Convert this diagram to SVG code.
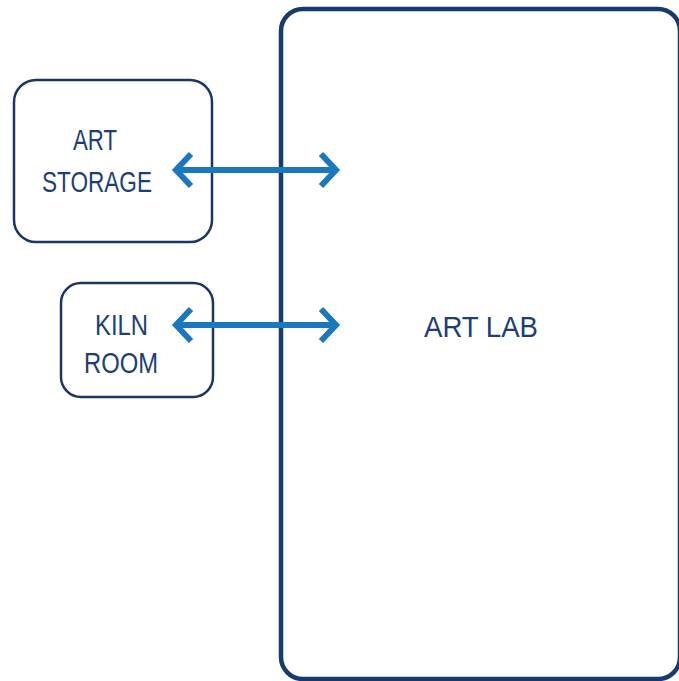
<svg xmlns="http://www.w3.org/2000/svg" width="679" height="681" viewBox="0 0 679 681">
<defs>
<style>
.room{fill:#fff;stroke:#1c3563;stroke-width:2.5}
.lab{fill:#fff;stroke:#173a70;stroke-width:4.5}
.lbl{font-family:"Liberation Sans",Arial,sans-serif;fill:#1d3f75;font-size:30px}
.conn{fill:none;stroke:#1a79bd;stroke-width:6;stroke-linejoin:miter}
</style>
</defs>
<rect width="679" height="681" fill="#fff"/>
<g id="art-lab">
<rect class="lab" x="281" y="9" width="399" height="670" rx="22"/>
<text class="lbl" x="424" y="337" textLength="114" lengthAdjust="spacingAndGlyphs" font-size="35">ART LAB</text>
</g>
<g id="art-storage">
<rect class="room" x="14" y="80" width="198" height="162" rx="22"/>
<text class="lbl" x="73" y="150" textLength="44" lengthAdjust="spacingAndGlyphs" font-size="31">ART</text>
<text class="lbl" x="42" y="192" textLength="110" lengthAdjust="spacingAndGlyphs" font-size="35">STORAGE</text>
</g>
<g id="kiln-room">
<rect class="room" x="61" y="283" width="152" height="114" rx="20"/>
<text class="lbl" x="95" y="335" textLength="53" lengthAdjust="spacingAndGlyphs" font-size="31">KILN</text>
<text class="lbl" x="84" y="373" textLength="74" lengthAdjust="spacingAndGlyphs" font-size="30">ROOM</text>
</g>
<g id="connectors">
<line class="conn" x1="178" y1="170" x2="334" y2="170"/>
<polyline class="conn" points="191,154 176,170 191,186"/>
<polyline class="conn" points="321,154 336,170 321,186"/>
<line class="conn" x1="178" y1="325" x2="334" y2="325"/>
<polyline class="conn" points="191,309 176,325 191,341"/>
<polyline class="conn" points="321,309 336,325 321,341"/>
</g>
</svg>
